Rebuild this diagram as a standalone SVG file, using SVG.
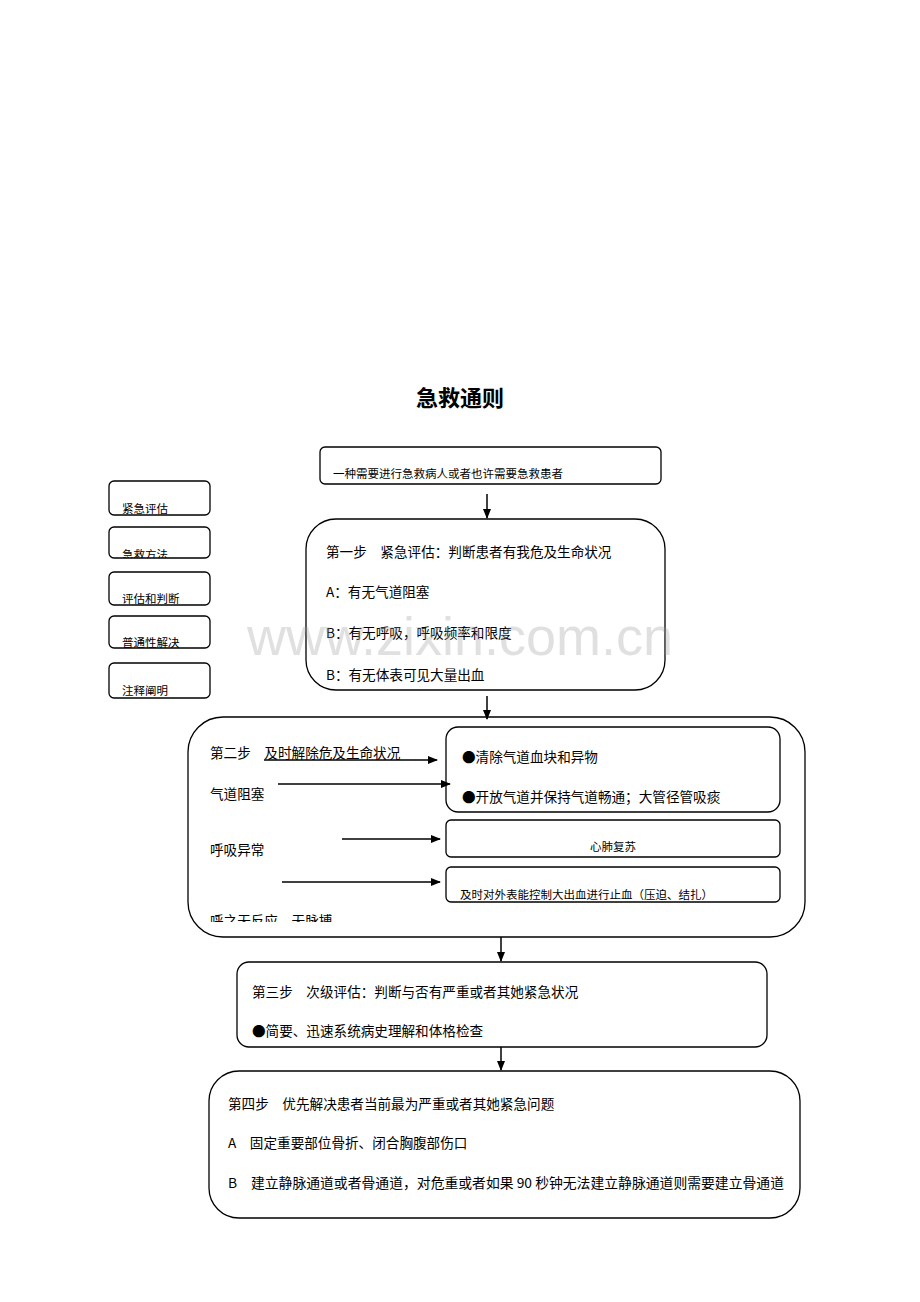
<svg xmlns="http://www.w3.org/2000/svg" width="920" height="1302" viewBox="0 0 920 1302">
<style>
.b{fill:#fff;stroke:#000;stroke-width:1.3}
text{font-family:"Noto Sans CJK SC","Liberation Serif",serif;font-size:13.6px;fill:#000}
.s{font-size:11.5px}
.c{stroke:#000;stroke-width:1.5;fill:none}
</style>
<defs>
<marker id="a" markerWidth="10" markerHeight="10" refX="9" refY="5" orient="auto" markerUnits="userSpaceOnUse"><path d="M0,1 L10,5 L0,9Z" fill="#000"/></marker>
<clipPath id="k1"><rect x="108" y="480" width="103" height="35"/></clipPath>
<clipPath id="k2"><rect x="108" y="526" width="103" height="32"/></clipPath>
<clipPath id="k3"><rect x="108" y="571" width="103" height="34"/></clipPath>
<clipPath id="k4"><rect x="108" y="615" width="103" height="33"/></clipPath>
<clipPath id="k5"><rect x="108" y="662" width="103" height="36"/></clipPath>
<clipPath id="k0"><rect x="320" y="446" width="342" height="38"/></clipPath>
<clipPath id="kb"><rect x="300" y="620" width="370" height="63"/></clipPath>
<clipPath id="kc"><rect x="446" y="820" width="335" height="36"/></clipPath>
<clipPath id="kd"><rect x="446" y="866" width="335" height="35"/></clipPath>
<clipPath id="ke"><rect x="188" y="880" width="300" height="42"/></clipPath>
</defs>
<text x="460" y="406" text-anchor="middle" style="font-size:22px;font-weight:bold">急救通则</text>
<g id="legend">
<rect class="b" x="109" y="481" width="101" height="34" rx="5"/><text class="s" x="122" y="513" clip-path="url(#k1)">紧急评估</text>
<rect class="b" x="109" y="527" width="101" height="31" rx="5"/><text class="s" x="122" y="559" clip-path="url(#k2)">急救方法</text>
<rect class="b" x="109" y="572" width="101" height="33" rx="5"/><text class="s" x="122" y="603" clip-path="url(#k3)">评估和判断</text>
<rect class="b" x="109" y="616" width="101" height="32" rx="5"/><text class="s" x="122" y="647" clip-path="url(#k4)">普通性解决</text>
<rect class="b" x="109" y="663" width="101" height="35" rx="5"/><text class="s" x="122" y="695" clip-path="url(#k5)">注释阐明</text>
</g>
<g id="n0"><rect class="b" x="320" y="447" width="341" height="37" rx="5"/><text class="s" x="333" y="478" clip-path="url(#k0)">一种需要进行急救病人或者也许需要急救患者</text></g>
<g id="n1"><rect class="b" x="306" y="519" width="359" height="171" rx="30"/>
<text x="326" y="557">第一步　紧急评估：判断患者有我危及生命状况</text>
<text x="326" y="597">A：有无气道阻塞</text>
<text x="326" y="638">B：有无呼吸，呼吸频率和限度</text>
<text x="326" y="680" clip-path="url(#kb)">B：有无体表可见大量出血</text></g>
<g id="n2"><rect class="b" x="188" y="717" width="617" height="220" rx="35"/>
<text x="210" y="758">第二步　及时解除危及生命状况</text>
<text x="210" y="799">气道阻塞</text>
<text x="210" y="855">呼吸异常</text>
<text x="210" y="926" clip-path="url(#ke)">呼之无反应，无脉搏</text></g>
<g id="n2a"><rect class="b" x="446" y="727" width="334" height="85" rx="12"/>
<text x="462" y="762">●清除气道血块和异物</text><text x="462" y="802">●开放气道并保持气道畅通；大管径管吸痰</text></g>
<g id="n2b"><rect class="b" x="446" y="820" width="334" height="37" rx="5"/><text class="s" x="613" y="851" text-anchor="middle" clip-path="url(#kc)">心肺复苏</text></g>
<g id="n2c"><rect class="b" x="446" y="867" width="334" height="35" rx="5"/><text class="s" x="460" y="899" clip-path="url(#kd)">及时对外表能控制大出血进行止血（压迫、结扎）</text></g>
<g id="n3"><rect class="b" x="237" y="962" width="530" height="85" rx="12"/>
<text x="252" y="997">第三步　次级评估：判断与否有严重或者其她紧急状况</text>
<text x="252" y="1036">●简要、迅速系统病史理解和体格检查</text></g>
<g id="n4"><rect class="b" x="209" y="1071" width="591" height="147" rx="30"/>
<text x="228" y="1109">第四步　优先解决患者当前最为严重或者其她紧急问题</text>
<text x="228" y="1148">A　固定重要部位骨折、闭合胸腹部伤口</text>
<text x="228" y="1188" textLength="556" lengthAdjust="spacingAndGlyphs">B　建立静脉通道或者骨通道，对危重或者如果 90 秒钟无法建立静脉通道则需要建立骨通道</text></g>
<g id="connectors">
<line class="c" x1="487" y1="494" x2="487" y2="518" marker-end="url(#a)"/>
<line class="c" x1="487" y1="696" x2="487" y2="719" marker-end="url(#a)"/>
<line class="c" x1="501" y1="937" x2="501" y2="961" marker-end="url(#a)"/>
<line class="c" x1="501" y1="1047" x2="501" y2="1070" marker-end="url(#a)"/>
<line class="c" x1="264" y1="760" x2="437" y2="760" marker-end="url(#a)"/>
<line class="c" x1="278" y1="784" x2="450" y2="784" marker-end="url(#a)"/>
<line class="c" x1="342" y1="839" x2="440" y2="839" marker-end="url(#a)"/>
<line class="c" x1="282" y1="882" x2="440" y2="882" marker-end="url(#a)"/>
</g>
<text x="460" y="655" text-anchor="middle" style="font-family:'Liberation Sans',sans-serif;font-size:54px;fill:#999;fill-opacity:0.3">www.zixin.com.cn</text>
</svg>
